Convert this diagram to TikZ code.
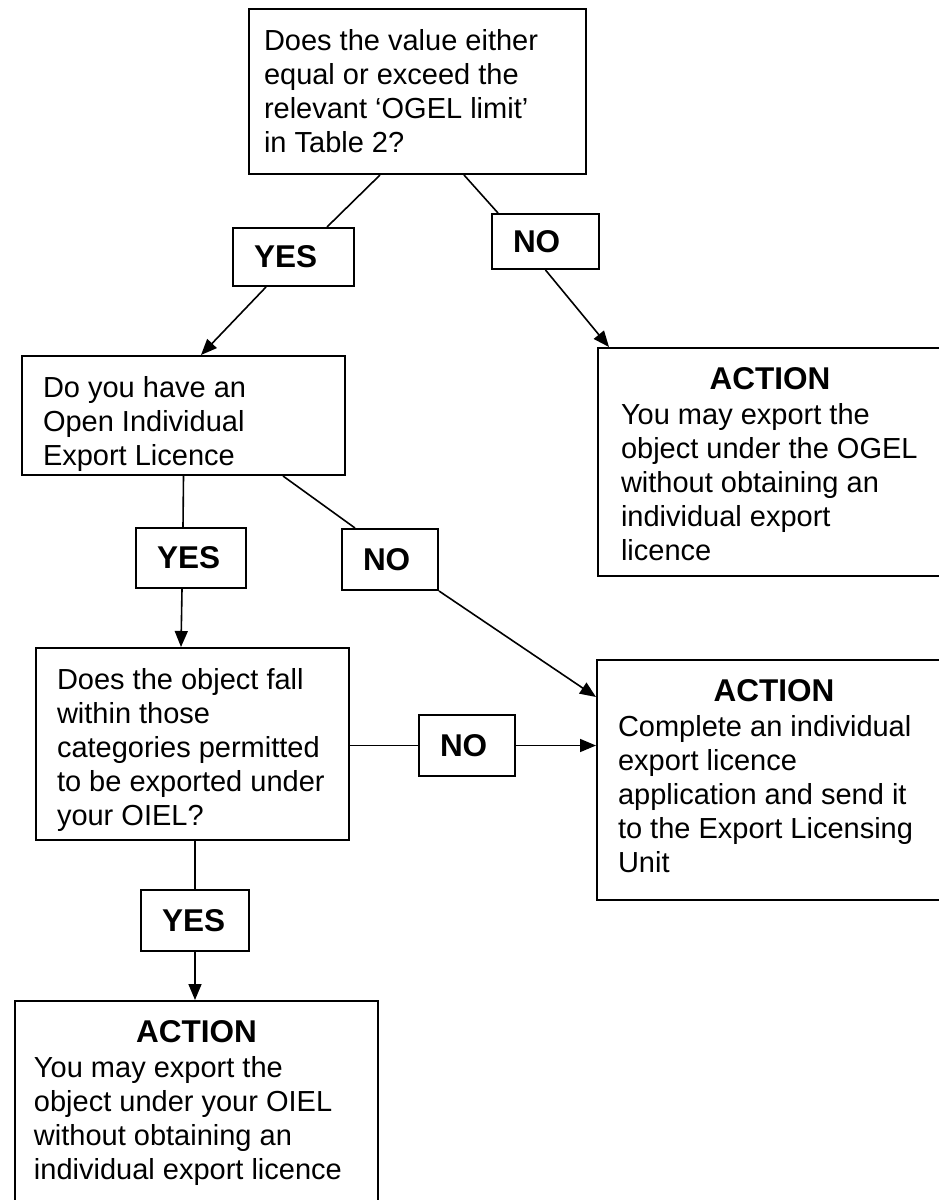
\documentclass[tikz,border=0pt]{standalone}
\usepackage{fontspec}
\setmainfont{Liberation Sans}
\usetikzlibrary{arrows.meta}
% box text: width, height, left padding, lines
\newcommand{\flowtext}[4]{\parbox[c][#2][t]{#1}{\vspace*{20pt}\leftskip=#3\relax\rightskip=0pt plus 1fil\relax\noindent #4\par}}
\newcommand{\actiontext}[4]{\parbox[c][#2][t]{#1}{\vspace*{19pt}{\centering\fontsize{31.5}{34}\selectfont\bfseries ACTION\par}\vspace{1pt}\leftskip=#3\relax\rightskip=0pt plus 1fil\relax\noindent #4\par}}

\begin{document}
\begin{tikzpicture}[x=1pt, y=-1pt,
    font=\fontsize{29}{34}\selectfont,
    flowbox/.style={draw, line width=2pt, anchor=north west, inner sep=0pt},
    answer/.style={draw, line width=2pt, anchor=north west, inner ysep=0pt,
      inner xsep=21pt, align=left, font=\fontsize{31.5}{34}\selectfont\bfseries},
    joinline/.style={line width=1.6pt},
    flowarrow/.style={joinline, -{Triangle[length=16pt, width=13pt]}}]
  \useasboundingbox[fill=white] (0,0) rectangle (938,1200);
  % Questions
  \node[flowbox] (askValue) at (248,8)
    {\flowtext{337pt}{165pt}{15pt}{Does the value either\\ equal or exceed the\\ relevant ‘OGEL limit’\\ in Table 2?}};
  \node[flowbox] (haveOIEL) at (21,355)
    {\flowtext{323pt}{119pt}{21pt}{Do you have an\\ Open Individual\\ Export Licence}};
  \node[flowbox] (fallWithin) at (35,647)
    {\flowtext{313pt}{192pt}{21pt}{Does the object fall\\ within those\\ categories permitted\\ to be exported under\\ your OIEL?}};
  % Actions
  \node[flowbox] (exportOGEL) at (597,347)
    {\actiontext{344pt}{228pt}{23pt}{You may export the\\ object under the OGEL\\ without obtaining an\\ individual export\\ licence}};
  \node[flowbox] (applyLicence) at (596,659)
    {\actiontext{354pt}{240pt}{21pt}{Complete an individual\\ export licence\\ application and send it\\ to the Export Licensing\\ Unit}};
  \node[flowbox] (exportOIEL) at (14,1000)
    {\actiontext{363pt}{202pt}{19pt}{You may export the\\ object under your OIEL\\ without obtaining an\\ individual export licence}};
  % Answers
  \node[answer, text width=79pt, minimum height=58pt] (yesA) at (232,227) {YES};
  \node[answer, text width=65pt, minimum height=55pt] (noA) at (491,213) {NO};
  \node[answer, text width=68pt, minimum height=60pt] (yesB) at (135,527) {YES};
  \node[answer, text width=54pt, minimum height=61pt] (noB) at (341,528) {NO};
  \node[answer, text width=54pt, minimum height=61pt] (noC) at (418,714) {NO};
  \node[answer, text width=66pt, minimum height=61pt] (yesC) at (140,889) {YES};
  % Connectors
  \draw[joinline] ([xshift=-37.5pt]askValue.south) -- ([xshift=33.5pt]yesA.north);
  \draw[flowarrow] ([xshift=-27.5pt]yesA.south) -- ([xshift=17.5pt]haveOIEL.north);
  \draw[joinline] ([xshift=46.5pt]askValue.south) -- ([xshift=-47.5pt]noA.north);
  \draw[flowarrow] (noA.south) -- ([xshift=12pt]exportOGEL.north west);
  \draw[joinline] (haveOIEL.south) -- ([xshift=-8pt]yesB.north);
  \draw[flowarrow] ([xshift=-9pt]yesB.south) -- ([xshift=-11.5pt]fallWithin.north);
  \draw[joinline] ([xshift=99.5pt]haveOIEL.south) -- ([xshift=14pt]noB.north west);
  \draw[flowarrow] (noB.south east) -- ([yshift=-38pt]applyLicence.north west);
  \draw[joinline] (fallWithin.east |- noC.west) -- (noC.west);
  \draw[flowarrow] (noC.east) -- (applyLicence.west |- noC.east);
  \draw[joinline] (yesC.north |- fallWithin.south) -- (yesC.north);
  \draw[flowarrow] (yesC.south) -- (yesC.south |- exportOIEL.north);
\end{tikzpicture}
\end{document}
